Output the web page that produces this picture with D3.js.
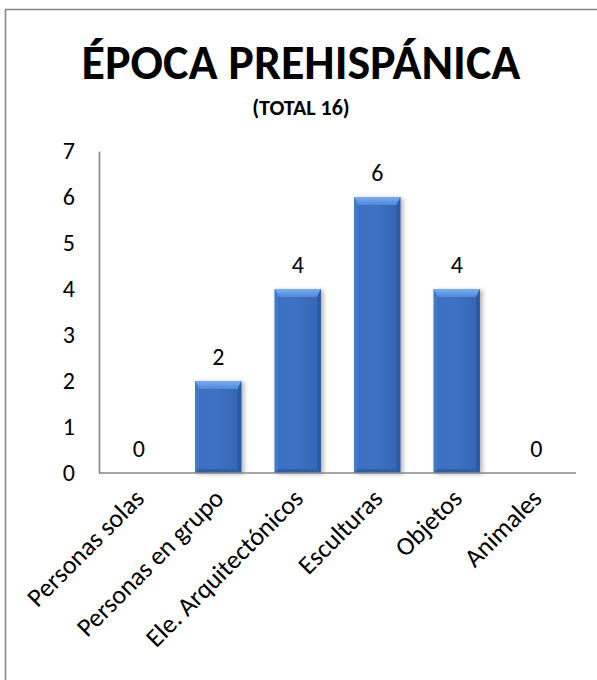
<!DOCTYPE html>
<html>
<head>
<meta charset="utf-8">
<script src="https://cdn.jsdelivr.net/npm/d3@7"></script>
<style>
  html, body { margin: 0; padding: 0; background: #fff; }
  svg { display: block; }
  text { font-family: Carlito, Calibri, Lato, "Open Sans", sans-serif; fill: #000; }
</style>
</head>
<body>
<script>
// Chart content
const titleText = "ÉPOCA PREHISPÁNICA";
const subtitleText = "(TOTAL 16)";
const categories = ["Personas solas", "Personas en grupo", "Ele. Arquitectónicos", "Esculturas", "Objetos", "Animales"];
const values = [0, 2, 4, 6, 4, 0];
const yTicks = [0, 1, 2, 3, 4, 5, 6, 7];

const W = 597, H = 680;
const margin = { left: 99, right: 21, top: 151, bottom: 207 };

const svg = d3.select("body").append("svg")
  .attr("width", W).attr("height", H);

const defs = svg.append("defs");

// soft shadow cast to the right of each bar
const shadow = defs.append("filter").attr("id", "barShadow")
  .attr("x", "-20%").attr("y", "-10%").attr("width", "150%").attr("height", "125%");
shadow.append("feDropShadow")
  .attr("dx", 2.5).attr("dy", 1).attr("stdDeviation", 2)
  .attr("flood-color", "#000").attr("flood-opacity", 0.3);

// face gradient of the bar body
const face = defs.append("linearGradient").attr("id", "barFace")
  .attr("x1", 0).attr("y1", 0).attr("x2", 1).attr("y2", 0);
face.append("stop").attr("offset", "0%").attr("stop-color", "#3b70c2");
face.append("stop").attr("offset", "50%").attr("stop-color", "#3c71c2");
face.append("stop").attr("offset", "100%").attr("stop-color", "#3567b6");

const topBevel = defs.append("linearGradient").attr("id", "barTop")
  .attr("x1", 0).attr("y1", 0).attr("x2", 0).attr("y2", 1);
topBevel.append("stop").attr("offset", "0%").attr("stop-color", "#7aacef");
topBevel.append("stop").attr("offset", "100%").attr("stop-color", "#5089d8");

svg.append("rect").attr("width", W).attr("height", H).attr("fill", "#fff");

// frame of the chart area (open to the right and bottom)
svg.append("path")
  .attr("d", `M5.5,${H} V9.5 H${W}`)
  .attr("fill", "none").attr("stroke", "#878787").attr("stroke-width", 1.6);

// titles
svg.append("text")
  .attr("x", 301).attr("y", 79)
  .attr("text-anchor", "middle")
  .attr("font-weight", "bold").attr("font-size", 48)
  .text(titleText);

svg.append("text")
  .attr("x", 301).attr("y", 115)
  .attr("text-anchor", "middle")
  .attr("font-weight", "bold").attr("font-size", 22)
  .text(subtitleText);

const x = d3.scaleBand()
  .domain(categories)
  .range([margin.left, W - margin.right])
  .paddingInner(0.42).paddingOuter(0.21);

const y = d3.scaleLinear()
  .domain([0, 7])
  .range([H - margin.bottom, margin.top]);

// y axis: line and labels only
const yAxis = svg.append("g")
  .attr("transform", `translate(${margin.left},0)`)
  .call(d3.axisLeft(y).tickValues(yTicks).tickSize(0).tickPadding(24).tickFormat(d3.format("d")));
yAxis.attr("font-family", null);
yAxis.select(".domain").attr("stroke", "#878787").attr("stroke-width", 1.6);
yAxis.selectAll("text")
  .attr("font-size", 24).attr("fill", "#000");

// bars with bevelled edges
const bw = x.bandwidth();
const bx = 4, btop = 8, bbot = 4;
const bars = svg.append("g").selectAll("g.bar")
  .data(categories.map((c, i) => ({ c, v: values[i] })).filter(d => d.v > 0))
  .join("g").attr("class", "bar")
  .attr("filter", "url(#barShadow)");

bars.each(function(d) {
  const g = d3.select(this);
  const x0 = x(d.c), x1 = x0 + bw;
  const t = y(d.v), b = y(0);
  g.append("rect").attr("x", x0).attr("y", t).attr("width", bw).attr("height", b - t)
    .attr("fill", "#3566b4");
  // left side
  g.append("path").attr("d", `M${x0},${t} L${x0 + bx},${t + btop} L${x0 + bx},${b - bbot} L${x0},${b} Z`)
    .attr("fill", "#4379c9");
  // right side
  g.append("path").attr("d", `M${x1},${t} L${x1 - bx},${t + btop} L${x1 - bx},${b - bbot} L${x1},${b} Z`)
    .attr("fill", "#2b5aa3");
  // bottom
  g.append("path").attr("d", `M${x0},${b} L${x0 + bx},${b - bbot} L${x1 - bx},${b - bbot} L${x1},${b} Z`)
    .attr("fill", "#2e5ea8");
  // face
  g.append("rect").attr("x", x0 + bx).attr("y", t + btop)
    .attr("width", bw - 2 * bx).attr("height", Math.max(0, b - bbot - t - btop))
    .attr("fill", "url(#barFace)");
  // top bevel
  g.append("path").attr("d", `M${x0},${t} L${x1},${t} L${x1 - bx},${t + btop} L${x0 + bx},${t + btop} Z`)
    .attr("fill", "url(#barTop)");
});

// x axis baseline
svg.append("line")
  .attr("x1", margin.left).attr("x2", W - margin.right)
  .attr("y1", y(0)).attr("y2", y(0))
  .attr("stroke", "#878787").attr("stroke-width", 1.6);

// value labels
svg.append("g").selectAll("text")
  .data(categories.map((c, i) => ({ c, v: values[i] })))
  .join("text")
  .attr("x", d => x(d.c) + bw / 2)
  .attr("y", d => y(d.v) - 16)
  .attr("text-anchor", "middle")
  .attr("font-size", 24)
  .text(d => d.v);

// category labels, rotated
svg.append("g").selectAll("text")
  .data(categories)
  .join("text")
  .attr("transform", d => `translate(${x(d) + bw / 2 + 7},${y(0) + 27}) rotate(-45)`)
  .attr("text-anchor", "end")
  .attr("font-size", 26)
  .text(d => d);
</script>
</body>
</html>
